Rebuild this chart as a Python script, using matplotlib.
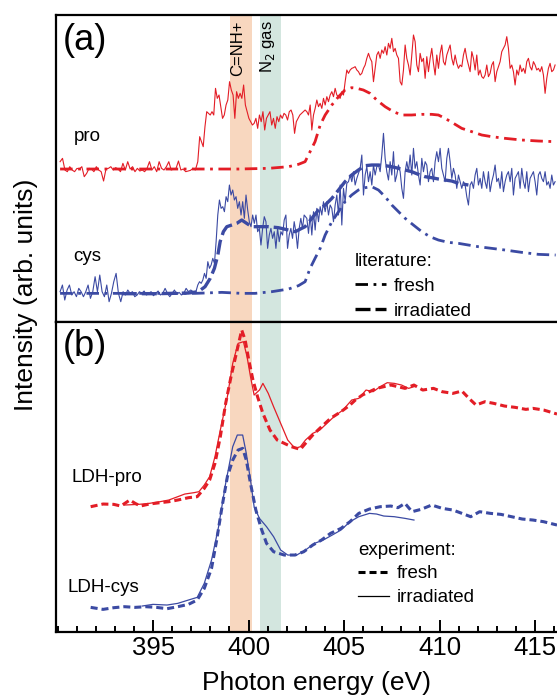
"""XANES N K-edge: (a) reference spectra pro/cys vs literature, (b) LDH-pro / LDH-cys experiment."""
import numpy as np
import matplotlib
matplotlib.use("Agg")
import matplotlib.pyplot as plt  # noqa: E402
from matplotlib.lines import Line2D  # noqa: E402

plt.rcParams["font.family"] = ["Liberation Sans", "DejaVu Sans"]

RED = "#e31d26"
BLUE = "#3b4aa3"
ORANGE = "#f8d7bf"
TEAL = "#d3e6df"

# ---------------- panel (a): noisy reference spectra (uniform energy grid per segment) ----------
pro_seg_ev = [(390.13, 397.34), (397.44, 402.96), (403.05, 416.05)]
pro_noisy = [
    [480, 490, 455, 450, 465, 455, 450, 460, 458, 465,
     435, 445, 460, 458, 450, 465, 455, 450, 422, 458,
     460, 465, 455, 462, 458, 450, 475, 455, 480, 458,
     465, 450, 460, 452, 455, 450, 460, 480, 455, 465,
     450, 480, 460, 455, 465, 480, 455, 458, 460, 482,
     455, 458, 450, 452, 454, 460, 455, 480],
    [555, 540, 525, 585, 630, 625, 620, 630, 620, 700,
     670, 680, 645, 610, 620, 650, 665, 720, 695, 680,
     610, 690, 670, 685, 670, 710, 650, 630, 610, 600,
     590, 595, 610, 580, 620, 600, 630, 575, 610, 620,
     630, 590, 610, 580, 615, 600, 620, 610, 625, 620,
     605, 630, 635, 620, 565, 600, 610, 620, 625, 630, 635],
    [630, 620, 650, 575, 620, 640, 665, 645, 655, 640,
     670, 650, 675, 660, 680, 690, 675, 700, 680, 675,
     670, 690, 680, 720, 755, 745, 755, 760, 762, 765,
     755, 750, 740, 745, 760, 770, 790, 805, 790, 780,
     720, 760, 800, 810, 790, 815, 805, 825, 800, 835,
     820, 850, 810, 820, 800, 790, 720, 710, 755, 830,
     790, 770, 740, 800, 860, 840, 770, 750, 805, 780,
     790, 730, 795, 750, 790, 820, 775, 740, 800, 760,
     805, 830, 780, 770, 800, 815, 830, 790, 770, 800,
     775, 760, 770, 765, 800, 820, 790, 770, 750, 810,
     790, 755, 800, 740, 755, 735, 730, 740, 770, 735,
     745, 770, 780, 720, 750, 765, 780, 810, 820, 830,
     855, 820, 760, 770, 750, 710, 755, 740, 770, 750,
     760, 745, 780, 790, 765, 755, 780, 770, 755, 760,
     750, 765, 740, 685, 730, 760, 775, 750, 755, 770],
]
cys_seg_ev = [(390.13, 397.34), (397.43, 402.91), (403.05, 416.05)]
cys_noisy = [
    [90, 110, 65, 95, 110, 80, 90, 75, 100, 90,
     75, 90, 110, 70, 90, 135, 90, 140, 90, 75,
     110, 60, 85, 120, 145, 85, 60, 90, 80, 95,
     85, 90, 75, 80, 90, 85, 92, 80, 85, 90,
     78, 85, 92, 80, 85, 100, 85, 75, 85, 95,
     82, 88, 80, 85, 100, 90, 95, 90, 85, 110],
    [120, 115, 125, 145, 130, 180, 160, 170, 190, 175,
     240, 320, 365, 340, 345, 330, 375, 360, 410, 380,
     395, 365, 375, 340, 360, 320, 360, 310, 380, 335,
     300, 285, 320, 295, 320, 270, 280, 230, 280, 315,
     300, 220, 260, 280, 250, 270, 220, 280, 240, 270,
     260, 305, 320, 220, 260, 280, 250, 300, 270, 220,
     280, 310, 280, 320],
    [310, 265, 320, 260, 330, 275, 340, 300, 345, 320,
     360, 330, 360, 320, 350, 340, 300, 350, 380, 320,
     410, 290, 400, 360, 415, 420, 440, 420, 450, 410,
     430, 445, 460, 500, 380, 440, 465, 420, 450, 410,
     470, 440, 465, 470, 450, 500, 565, 490, 450, 425,
     480, 440, 510, 420, 440, 470, 450, 400, 370, 450,
     480, 450, 500, 440, 520, 460, 480, 440, 410, 490,
     450, 480, 470, 420, 450, 460, 420, 480, 510, 480,
     520, 460, 440, 420, 490, 520, 480, 430, 460, 440,
     400, 440, 420, 400, 420, 410, 375, 350, 410, 420,
     400, 440, 460, 410, 430, 400, 450, 420, 400, 450,
     390, 420, 440, 470, 420, 430, 400, 450, 390, 420,
     440, 450, 420, 460, 380, 430, 440, 450, 400, 460,
     420, 400, 450, 390, 430, 440, 450, 420, 380, 440,
     450, 430, 420, 450, 410, 420, 400, 440, 410, 420],
]

# literature curves (panel a)
pro_lit_fresh_ev = [390.13, 397.20, 399.47, 401.04, 402.09, 402.61, 402.96, 403.22, 403.48, 403.75,
                    404.01, 404.36, 404.71, 405.05, 405.40, 405.67, 406.01, 406.36, 406.71, 407.15,
                    407.58, 408.02, 408.54, 409.07, 409.59, 409.94, 410.29, 410.73, 411.16, 411.69,
                    412.21, 412.73, 413.43, 414.30, 415.18, 416.08]
pro_lit_fresh = [458, 458, 458, 460, 465, 472, 480, 510, 540, 590,
                 620, 650, 675, 695, 702, 700, 695, 685, 665, 645,
                 630, 620, 620, 622, 622, 620, 610, 595, 580, 570,
                 560, 555, 550, 545, 542, 540]
cys_lit_fresh_ev = [390.13, 397.20, 398.60, 399.64, 400.34, 401.21, 402.09, 402.61, 402.96, 403.22,
                    403.48, 403.75, 404.01, 404.36, 404.71, 405.05, 405.40, 405.75, 406.10, 406.45,
                    406.80, 407.15, 407.50, 407.85, 408.20, 408.63, 409.07, 409.50, 409.94, 410.46,
                    410.99, 411.51, 412.03, 412.73, 413.43, 414.30, 415.18, 416.08]
cys_lit_fresh = [85, 85, 88, 85, 85, 90, 98, 108, 120, 160,
                 190, 220, 260, 300, 330, 360, 380, 395, 402, 405,
                 395, 375, 350, 330, 310, 290, 270, 255, 245, 238,
                 235, 230, 225, 220, 215, 208, 202, 200]
cys_lit_irr_ev = [393.36, 395.11, 396.85, 397.37, 397.72, 397.99, 398.21, 398.39, 398.51, 398.68,
                  398.86, 399.12, 399.38, 399.64, 399.90, 400.17, 400.52, 401.04, 401.56, 402.09,
                  402.44, 402.78, 402.96, 403.31, 403.66, 404.01, 404.36, 404.71, 405.05, 405.40,
                  405.75, 406.10, 406.45, 406.80, 407.15, 407.50, 407.85, 408.20, 408.54, 408.89,
                  409.24, 409.59, 409.94, 410.29, 410.64, 410.99, 411.51]
cys_lit_irr = [84, 84, 86, 90, 105, 130, 160, 200, 240, 270,
               285, 290, 295, 305, 295, 285, 285, 285, 282, 275,
               270, 280, 285, 310, 335, 350, 370, 395, 420, 440,
               455, 468, 470, 470, 468, 465, 460, 455, 450, 442,
               435, 432, 428, 425, 422, 415, 410]

# ---------------- panel (b): LDH experiment ----------------
ldh_pro_fresh_ev = [391.73, 392.38, 392.94, 393.31, 393.78, 394.06, 394.34, 394.80, 395.36, 395.82,
                    396.29, 396.85, 397.31, 397.68, 397.96, 398.24, 398.52, 398.80, 399.08, 399.36,
                    399.64, 399.82, 400.01, 400.23, 400.47, 400.75, 401.12, 401.50, 401.87, 402.24,
                    402.71, 402.98, 403.36, 403.82, 404.29, 404.84, 405.31, 405.59, 405.96, 406.33,
                    406.70, 407.08, 407.45, 407.82, 408.19, 408.66, 409.12, 409.68, 410.14, 410.70,
                    411.17, 411.54, 411.91, 412.38, 412.84, 413.40, 413.96, 414.52, 414.89, 415.45,
                    416.15]
ldh_pro_fresh = [375, 383, 382, 377, 395, 385, 377, 383, 387, 390,
                 395, 402, 405, 430, 455, 505, 585, 685, 765, 835,
                 905, 875, 815, 755, 705, 655, 605, 575, 565, 555,
                 547, 565, 590, 615, 640, 660, 680, 695, 710, 720,
                 730, 735, 740, 735, 730, 740, 725, 730, 720, 715,
                 722, 700, 680, 690, 685, 677, 673, 667, 670, 665,
                 653]
ldh_pro_irr_ev = [393.50, 394.24, 394.80, 395.36, 395.82, 396.29, 396.66, 397.13, 397.40, 397.68,
                  397.96, 398.24, 398.52, 398.89, 399.17, 399.45, 399.73, 399.92, 400.10, 400.29,
                  400.57, 400.75, 401.03, 401.31, 401.68, 402.05, 402.43, 402.71, 402.98, 403.36,
                  403.73, 404.10, 404.47, 404.94, 405.40, 405.77, 406.15, 406.52, 406.89, 407.26,
                  407.63, 408.01, 408.38, 408.66]
ldh_pro_irr = [380, 382, 385, 390, 395, 405, 413, 417, 420, 440,
               465, 525, 605, 705, 805, 865, 870, 825, 765, 710,
               725, 745, 715, 675, 625, 575, 550, 555, 575, 595,
               605, 625, 645, 665, 695, 700, 725, 720, 735, 747,
               745, 740, 730, 735]
ldh_cys_fresh_ev = [391.73, 392.38, 392.94, 393.50, 394.06, 394.62, 395.17, 395.73, 396.29, 396.85,
                    397.31, 397.68, 398.06, 398.33, 398.61, 398.89, 399.17, 399.45, 399.69, 399.88,
                    400.10, 400.38, 400.66, 400.94, 401.31, 401.87, 402.43, 402.89, 403.36, 403.82,
                    404.29, 404.84, 405.31, 405.77, 406.33, 406.89, 407.45, 407.82, 408.19, 408.56,
                    409.03, 409.59, 410.14, 410.70, 411.17, 411.63, 412.10, 412.66, 413.21, 413.77,
                    414.33, 414.89, 415.45, 416.15]
ldh_cys_fresh = [73, 67, 72, 75, 73, 75, 73, 69, 75, 82,
                 95, 130, 190, 275, 375, 465, 515, 545, 550, 515,
                 445, 365, 310, 265, 240, 230, 230, 240, 260, 275,
                 295, 310, 330, 355, 368, 375, 377, 372, 385, 360,
                 367, 380, 370, 365, 355, 345, 360, 355, 352, 345,
                 338, 335, 330, 320]
ldh_cys_irr_ev = [394.43, 394.99, 395.73, 396.29, 396.85, 397.31, 397.68, 398.06, 398.43, 398.80,
                  399.17, 399.41, 399.69, 399.88, 400.10, 400.29, 400.57, 400.94, 401.31, 401.68,
                  402.05, 402.52, 402.98, 403.45, 403.91, 404.38, 404.84, 405.31, 405.77, 406.33,
                  406.70, 407.08, 407.63, 408.19, 408.66]
ldh_cys_irr = [77, 82, 80, 85, 95, 103, 145, 215, 315, 445,
               555, 590, 590, 535, 455, 375, 340, 315, 285, 245,
               230, 230, 245, 265, 275, 290, 305, 330, 345, 355,
               353, 347, 345, 340, 335]

# bands (eV) and labels
bands = [(399.03, 400.18, ORANGE), (400.62, 401.72, TEAL)]
band_labels = [(399.42, "C=NH+"), (401.0, r"N$_2$ gas")]
xticks_major = [395, 400, 405, 410, 415]


def grid(seg_ev, seg_vals):
    ev = np.concatenate([np.linspace(a, b, len(v)) for (a, b), v in zip(seg_ev, seg_vals)])
    return ev, np.concatenate([np.asarray(v, float) for v in seg_vals])


fig = plt.figure(figsize=(5.57, 6.95), dpi=100)
L, R = 55.7 / 557, 1.0
ax_a = fig.add_axes([L, (695 - 321.7) / 695, R - L, 306.7 / 695])
ax_b = fig.add_axes([L, (695 - 631.7) / 695, R - L, 310.0 / 695])

for ax in (ax_a, ax_b):
    for lo, hi, c in bands:
        ax.axvspan(lo, hi, color=c, lw=0, zorder=0)
    ax.set_xlim(389.9, 416.15)
    for s in ax.spines.values():
        s.set_linewidth(1.6)
    ax.spines["right"].set_visible(False)
    ax.set_yticks([])

ax_a.set_ylim(0, 920)
ax_b.set_ylim(0, 930)
ax_a.tick_params(axis="x", which="both", bottom=False, labelbottom=False)

# panel (a)
dashdot = (0, (4.5, 2.0, 1.0, 2.0))
ev, v = grid(pro_seg_ev, pro_noisy)
ax_a.plot(ev, v, color=RED, lw=0.8, zorder=3)
ax_a.plot(pro_lit_fresh_ev, pro_lit_fresh, color=RED, lw=2.0, ls=dashdot, zorder=2)
ev, v = grid(cys_seg_ev, cys_noisy)
ax_a.plot(ev, v, color=BLUE, lw=0.8, zorder=3)
ax_a.plot(cys_lit_fresh_ev, cys_lit_fresh, color=BLUE, lw=2.0, ls=dashdot, zorder=2)
ax_a.plot(cys_lit_irr_ev, cys_lit_irr, color=BLUE, lw=2.4, ls=(0, (4.5, 1.5)), zorder=2)

ax_a.text(0.014, 0.975, "(a)", transform=ax_a.transAxes, fontsize=26, va="top", ha="left")
ax_a.text(390.83, 542, "pro", fontsize=13.5, va="baseline")
ax_a.text(390.83, 182, "cys", fontsize=13.5, va="baseline")
for x, lab in band_labels:
    ax_a.text(x, 905, lab, rotation=90, fontsize=12, ha="center", va="top")

lit_handles = [Line2D([], [], color="k", lw=2.0, ls=dashdot),
               Line2D([], [], color="k", lw=2.4, ls=(0, (4.5, 1.5)))]
ax_a.legend(lit_handles, ["fresh", "irradiated"], title="literature:", loc="upper left",
            bbox_to_anchor=(0.597, 0.225), frameon=False, fontsize=13.5, title_fontsize=13.5,
            handlelength=1.65, handletextpad=0.4, labelspacing=0.42, borderpad=0,
            borderaxespad=0, alignment="left")

# panel (b)
dashed = (0, (2.3, 1.3))
ax_b.plot(ldh_pro_fresh_ev, ldh_pro_fresh, color=RED, lw=2.2, ls=dashed, zorder=2)
ax_b.plot(ldh_pro_irr_ev, ldh_pro_irr, color=RED, lw=0.9, zorder=3)
ax_b.plot(ldh_cys_fresh_ev, ldh_cys_fresh, color=BLUE, lw=2.2, ls=dashed, zorder=2)
ax_b.plot(ldh_cys_irr_ev, ldh_cys_irr, color=BLUE, lw=0.9, zorder=3)

ax_b.text(0.014, 0.975, "(b)", transform=ax_b.transAxes, fontsize=26, va="top", ha="left")
ax_b.text(390.71, 450, "LDH-pro", fontsize=13.5, va="baseline")
ax_b.text(390.53, 120, "LDH-cys", fontsize=13.5, va="baseline")

exp_handles = [Line2D([], [], color="k", lw=2.2, ls=dashed),
               Line2D([], [], color="k", lw=0.9)]
ax_b.legend(exp_handles, ["fresh", "irradiated"], title="experiment:", loc="upper left",
            bbox_to_anchor=(0.603, 0.29), frameon=False, fontsize=13.5, title_fontsize=13.5,
            handlelength=1.65, handletextpad=0.4, labelspacing=0.35, borderpad=0,
            borderaxespad=0, alignment="left")

ax_b.set_xticks(xticks_major)
ax_b.set_xticks(np.arange(390, 417, 1), minor=True)
ax_b.tick_params(axis="x", which="major", direction="in", length=9, width=1.4,
                 labelsize=18.5, pad=3, top=False)
ax_b.tick_params(axis="x", which="minor", direction="in", length=4.3, width=1.4, top=False)

fig.text(316 / 557, 5 / 695, "Photon energy (eV)", fontsize=19, ha="center", va="baseline")
fig.text(26 / 557, 1 - 295 / 695, "Intensity (arb. units)", fontsize=19, rotation=90,
         ha="center", va="center")

fig.savefig("out.png", dpi=100)
